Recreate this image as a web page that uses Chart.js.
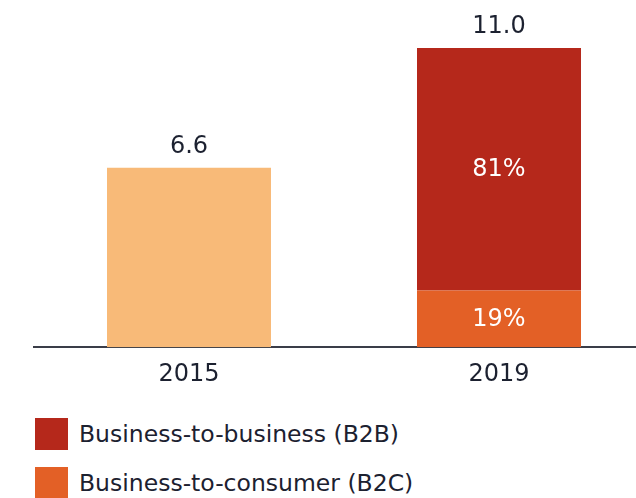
<!DOCTYPE html>
<html>
<head>
<meta charset="utf-8">
<script src="https://cdn.jsdelivr.net/npm/chart.js@4"></script>
<style>
  body { margin: 0; background: #fff; overflow: hidden; font-family: "DejaVu Sans", sans-serif; }
  #wrap { position: relative; width: 660px; height: 402px; }
  #legend { position: absolute; left: 35px; top: 418px; }
  .item { display: flex; align-items: center; height: 32px; margin-bottom: 17px; }
  .box { width: 33px; height: 32px; margin-right: 11px; }
  .item span { font-size: 23.5px; color: #1c2130; }
</style>
</head>
<body>
<div id="wrap"><canvas id="chart" width="660" height="402"></canvas></div>
<div id="legend"></div>
<script>
// Data
const years = ["2015", "2019"];
const total2015 = [6.6, null];
const b2c = [null, 2.09];
const b2b = [null, 8.91];
const seriesNames = ["Business-to-business (B2B)", "Business-to-consumer (B2C)"];

const textColor = "#1c2130";

// Labels: totals above each bar, shares inside the 2019 segments
const labelPlugin = {
  id: "barLabels",
  afterDatasetsDraw(chart) {
    const ctx = chart.ctx;
    const yScale = chart.scales.y;
    ctx.save();
    ctx.font = "24px 'DejaVu Sans'";
    ctx.textAlign = "center";

    years.forEach((year, i) => {
      let sum = 0;
      let x = null;
      chart.data.datasets.forEach((ds, d) => {
        const v = ds.data[i];
        if (v != null) {
          sum += v;
          x = chart.getDatasetMeta(d).data[i].x;
        }
      });
      ctx.fillStyle = textColor;
      ctx.textBaseline = "bottom";
      ctx.fillText(sum.toFixed(1), x, yScale.getPixelForValue(sum) - 9);

      // share labels for split bars
      chart.data.datasets.forEach((ds, d) => {
        if (!ds.showShare || ds.data[i] == null) return;
        const bar = chart.getDatasetMeta(d).data[i];
        const pct = Math.round((ds.data[i] / sum) * 100) + "%";
        ctx.fillStyle = "#ffffff";
        ctx.textBaseline = "middle";
        ctx.fillText(pct, bar.x, (bar.y + bar.base) / 2 + 1);
      });
    });
    ctx.restore();
  },
};

const ctx = document.getElementById("chart").getContext("2d");
const chart = new Chart(ctx, {
  type: "bar",
  data: {
    labels: years,
    datasets: [
      { label: "Total", data: total2015, backgroundColor: "#F8BA78" },
      { label: seriesNames[1], data: b2c, backgroundColor: "#E36026", showShare: true },
      { label: seriesNames[0], data: b2b, backgroundColor: "#B5281B", showShare: true },
    ],
  },
  options: {
    responsive: false,
    animation: false,
    layout: { padding: { left: 34, right: 6, top: 0, bottom: 0 } },
    plugins: {
      legend: { display: false },
      tooltip: { enabled: false },
    },
    datasets: {
      bar: { categoryPercentage: 0.529, barPercentage: 1, borderWidth: 0 },
    },
    scales: {
      x: {
        stacked: true,
        grid: { display: false, drawTicks: false },
        border: { display: true, color: "#3a3d48", width: 2 },
        ticks: { color: textColor, font: { family: "DejaVu Sans", size: 24 }, padding: 13 },
      },
      y: {
        stacked: true,
        display: false,
        min: 0,
        max: 12.77,
      },
    },
  },
  plugins: [labelPlugin],
});

// Legend (B2B first, then B2C)
const legend = document.getElementById("legend");
[2, 1].forEach((d) => {
  const ds = chart.data.datasets[d];
  const item = document.createElement("div");
  item.className = "item";
  item.innerHTML = `<div class="box" style="background:${ds.backgroundColor}"></div><span>${ds.label}</span>`;
  legend.appendChild(item);
});
</script>
</body>
</html>
